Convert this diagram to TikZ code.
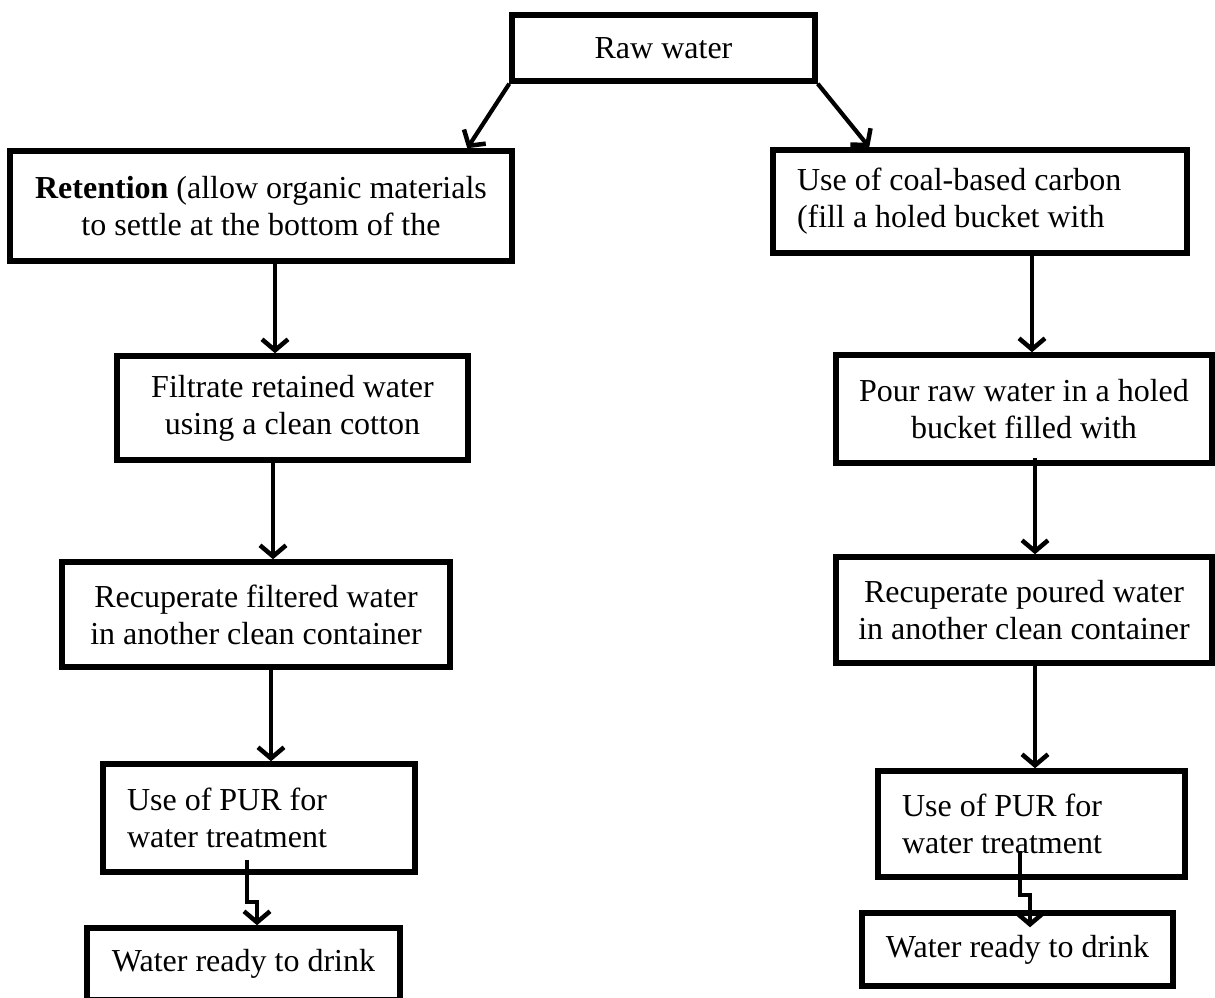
\documentclass[tikz,border=0pt]{standalone}
\usepackage{fontspec}
\setmainfont{Liberation Serif}
\usetikzlibrary{arrows.meta}
\begin{document}
\begin{tikzpicture}[x=1pt,y=-1pt,
  box/.style={draw, line width=5.5pt, rectangle, inner sep=2pt,
    font=\fontsize{32}{37}\selectfont, align=center},
  lbox/.style={box, align=flush left, inner xsep=24pt},
  arr/.style={line width=4.2pt, -{Straight Barb[length=11pt,width=26pt,line width=4.5pt]}}
]
\useasboundingbox (0,0) rectangle (1215,998);
% boxes
\node[box, minimum width=303pt, minimum height=66pt] (raw) at (663.5,48) {Raw water};
\node[box, minimum width=502pt, minimum height=110pt] (ret) at (261,206)
  {\textbf{Retention} (allow organic materials\\to settle at the bottom of the};
\node[lbox, minimum width=414pt, text width=366pt, minimum height=103pt] (coal) at (980,201.5)
  {Use of coal-based carbon\\(fill a holed bucket with};
\node[box, minimum width=351pt, minimum height=104pt] (filt) at (292.5,408)
  {Filtrate retained water\\using a clean cotton};
\node[box, minimum width=376pt, minimum height=108pt] (pour) at (1024,409)
  {Pour raw water in a holed\\bucket filled with};
\node[box, minimum width=388pt, minimum height=105pt] (recf) at (256,614.5)
  {Recuperate filtered water\\in another clean container};
\node[box, minimum width=376pt, minimum height=106pt] (recp) at (1024,610)
  {Recuperate poured water\\in another clean container};
\node[lbox, minimum width=312pt, text width=264pt, minimum height=108pt] (purl) at (259,818)
  {Use of PUR for\\water treatment};
\node[lbox, minimum width=307pt, text width=259pt, minimum height=106pt] (purr) at (1031.5,824)
  {Use of PUR for\\water treatment};
\node[box, minimum width=313pt, minimum height=72pt] (wl) at (243.5,964) {Water ready to drink};
\node[box, minimum width=311pt, minimum height=73pt] (wr) at (1017.5,949.5) {Water ready to drink};
% connector end points
\coordinate (a1) at ([xshift=14pt]ret.south);
\coordinate (a2) at ([xshift=-19.5pt,yshift=5pt]filt.south);
\coordinate (a3) at ([xshift=15pt]recf.south);
\coordinate (a4) at ([xshift=52pt]coal.south);
\coordinate (a5) at ([xshift=11pt,yshift=8pt]pour.south);
\coordinate (a6) at ([xshift=11pt]recp.south);
\coordinate (z1) at ([xshift=-12pt,yshift=15pt]purl.south);
\coordinate (z1e) at ([xshift=13.5pt]wl.north);
\coordinate (z2) at ([xshift=-11.5pt,yshift=29pt]purr.south);
\coordinate (z2e) at ([xshift=12.5pt,yshift=-17pt]wr.north);
% connectors
\draw[arr] (raw.south west) -- ([xshift=460pt]ret.north west);
\draw[arr] (raw.south east) -- ([xshift=99pt]coal.north west);
\draw[arr] (a1) -- (a1 |- filt.north);
\draw[arr] (a2) -- (a2 |- recf.north);
\draw[arr] (a3) -- (a3 |- purl.north);
\draw[arr] (a4) -- (a4 |- pour.north);
\draw[arr] (a5) -- (a5 |- recp.north);
\draw[arr] (a6) -- (a6 |- purr.north);
\draw[arr] (z1) -- ++(0,42) -- ++(10,0) -- (z1e);
\draw[arr] (z2) -- ++(0,44) -- ++(10,0) -- (z2e);
\end{tikzpicture}
\end{document}
